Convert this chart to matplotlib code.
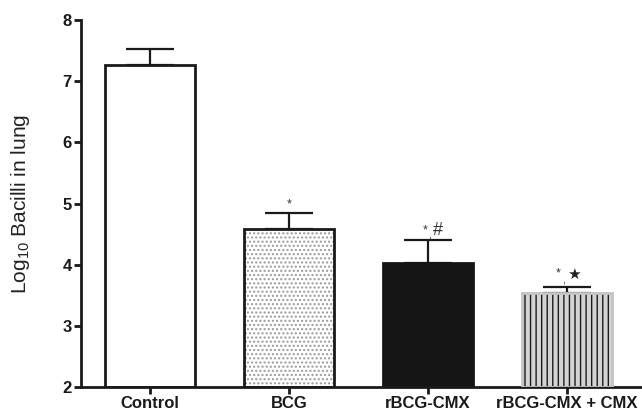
import matplotlib
matplotlib.use("Agg")
import matplotlib.pyplot as plt

categories = ["Control", "BCG", "rBCG-CMX", "rBCG-CMX + CMX"]
means = [7.27, 4.58, 4.03, 3.53]
errors = [0.26, 0.26, 0.37, 0.10]
yticks = [2, 3, 4, 5, 6, 7, 8]

plt.rcParams['font.family'] = ['Liberation Sans', 'DejaVu Sans']
plt.rcParams['mathtext.fontset'] = 'custom'
plt.rcParams['mathtext.rm'] = 'Liberation Sans'
plt.rcParams['mathtext.it'] = 'Liberation Sans:italic'
plt.rcParams['mathtext.bf'] = 'Liberation Sans:bold'
plt.rcParams['hatch.linewidth'] = 1.0

fig = plt.figure(figsize=(6.42, 4.13), dpi=100)
ax = fig.add_axes([81 / 642, 26 / 413, 560 / 642, 367 / 413])

x = list(range(len(categories)))
w = 0.65
lw = 2.0

# Control: white
ax.bar(x[0], means[0] - 2, bottom=2, width=w, color='white', edgecolor='#1a1a1a', linewidth=lw, zorder=2)
# BCG: dotted
plt.rcParams['hatch.color'] = '#9a9a9a'
ax.bar(x[1], means[1] - 2, bottom=2, width=w, color='white', edgecolor='#9a9a9a', hatch='....', linewidth=0, zorder=2)
ax.bar(x[1], means[1] - 2, bottom=2, width=w, fill=False, edgecolor='#1a1a1a', linewidth=lw, zorder=3)
# rBCG-CMX: black
ax.bar(x[2], means[2] - 2, bottom=2, width=w, color='#151515', edgecolor='#151515', linewidth=lw, zorder=2)
# rBCG-CMX + CMX: grey with vertical lines
plt.rcParams['hatch.color'] = '#1a1a1a'
ax.bar(x[3], means[3] - 2, bottom=2, width=w, color='#d4d4d4', edgecolor='#1a1a1a', hatch='|||', linewidth=0, zorder=2)
ax.bar(x[3], means[3] - 2, bottom=2, width=w, fill=False, edgecolor='#c4c4c4', linewidth=lw, zorder=3)

ax.errorbar(x, means, yerr=[[0] * 4, errors], fmt='none', ecolor='#1a1a1a',
            elinewidth=1.6, capsize=17, capthick=1.6, zorder=1)

# significance marks
c = '#333333'
ax.text(x[1], 4.99, "*", ha='center', va='center', fontsize=9, color=c)
ax.text(x[2] - 0.02, 4.56, "*", ha='center', va='center', fontsize=9, color=c)
ax.text(x[2] + 0.015, 4.47, ",", ha='center', va='center', fontsize=8, color=c)
ax.text(x[2] + 0.07, 4.56, "#", ha='center', va='center', fontsize=13, color=c)
ax.text(x[3] - 0.06, 3.86, "*", ha='center', va='center', fontsize=9, color=c)
ax.text(x[3] - 0.026, 3.74, ",", ha='center', va='center', fontsize=8, color=c)
ax.text(x[3] + 0.055, 3.84, "\u2605", ha='center', va='center', fontsize=11,
        color='#222222', family=['DejaVu Sans'])

ax.set_xlim(-0.496, 3.535)
ax.set_ylim(2, 8)
ax.set_yticks(yticks)
ax.set_yticklabels([str(t) for t in yticks], fontweight='bold', fontsize=12)
ax.set_xticks(x)
ax.set_xticklabels(categories, fontweight='bold', fontsize=12)
ax.set_ylabel("Log$_{\\mathregular{10}}$ Bacilli in lung", fontsize=15, color='#222222')
ax.yaxis.set_label_coords(-0.088, 0.5)

for s in ['top', 'right']:
    ax.spines[s].set_visible(False)
for s in ['left', 'bottom']:
    ax.spines[s].set_linewidth(2)
    ax.spines[s].set_color('#1a1a1a')
ax.tick_params(axis='both', direction='out', length=5, width=2, color='#1a1a1a', labelcolor='#1a1a1a', pad=1.5)

fig.savefig("out.png", dpi=100)
